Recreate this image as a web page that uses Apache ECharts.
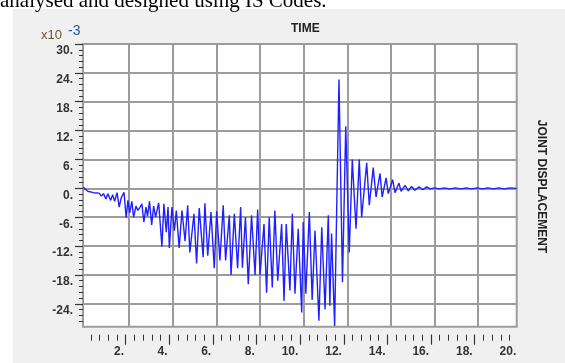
<!DOCTYPE html>
<html>
<head>
<meta charset="utf-8">
<title>Joint displacement - time</title>
<script src="https://cdn.jsdelivr.net/npm/echarts@6/dist/echarts.min.js"></script>
<style>
  html, body { margin: 0; padding: 0; background: #fff; }
  #chart { width: 565px; height: 363px; }
</style>
</head>
<body>
<div id="chart"></div>
<script>
// time, s
var timeValues = [
  -0.1, 0.1, 0.37, 0.62, 0.72, 0.82, 0.93, 1.02, 1.15, 1.24,
  1.33, 1.44, 1.54, 1.63, 1.76, 1.86, 1.94, 2.02, 2.12, 2.2,
  2.31, 2.4, 2.5, 2.58, 2.67, 2.77, 2.84, 2.93, 3.03, 3.12,
  3.21, 3.35, 3.5, 3.59, 3.7, 3.78, 3.84, 3.96, 4.07, 4.16,
  4.29, 4.42, 4.56, 4.68, 4.78, 4.97, 5.09, 5.21, 5.39, 5.47,
  5.6, 5.75, 5.9, 6.01, 6.16, 6.31, 6.42, 6.59, 6.67, 6.82,
  6.97, 7.11, 7.19, 7.33, 7.46, 7.61, 7.77, 7.89, 8.0, 8.18,
  8.3, 8.42, 8.56, 8.68, 8.81, 8.99, 9.1, 9.2, 9.37, 9.48,
  9.6, 9.75, 9.91, 9.98, 10.1, 10.26, 10.39, 10.52, 10.7, 10.83,
  10.98, 11.13, 11.2, 11.28, 11.42, 11.62, 11.78, 11.93, 12.09, 12.23,
  12.4, 12.55, 12.66, 12.89, 13.01, 13.19, 13.32, 13.5, 13.6, 13.78,
  13.88, 14.08, 14.19, 14.37, 14.47, 14.65, 14.8, 14.95, 15.1, 15.29,
  15.46, 15.64, 15.79, 16.0, 16.2, 16.45, 16.7, 16.95, 17.2, 17.45,
  17.7, 17.95, 18.2, 18.45, 18.7, 18.95, 19.2, 19.45, 19.77
];
// joint displacement, x10^-3
var dispValues = [
  0.2, -0.6, -0.9, -1.0, -1.6, -1.1, -2.2, -1.1, -2.5, -1.3,
  -2.7, -0.9, -3.9, -2.0, -0.8, -6.1, -2.5, -5.1, -2.7, -6.0,
  -3.7, -4.6, -3.9, -3.2, -7.0, -3.9, -5.8, -2.7, -7.6, -3.7,
  -6.0, -3.0, -12.1, -3.2, -9.1, -3.9, -12.4, -3.9, -8.8, -4.6,
  -12.4, -4.6, -11.0, -3.5, -13.3, -5.3, -15.6, -4.1, -14.3, -3.1,
  -14.0, -4.9, -16.6, -4.7, -15.0, -3.5, -15.0, -5.6, -18.0, -5.3,
  -16.6, -3.9, -16.5, -6.0, -19.9, -5.6, -18.0, -4.4, -18.0, -7.4,
  -21.7, -6.0, -20.6, -4.6, -19.2, -7.4, -23.4, -7.4, -21.2, -5.3,
  -21.9, -8.4, -25.8, -7.0, -21.9, -4.9, -23.2, -8.8, -27.5, -8.1,
  -25.1, -5.6, -24.4, -9.4, -28.6, 22.6, -19.5, 12.9, -13.3, 6.0,
  -8.4, 6.0, -6.0, 5.3, -3.5, 4.3, -1.8, 3.1, -1.8, 2.2,
  -1.1, 1.8, -0.9, 1.1, -0.6, 0.6, -0.5, 0.4, -0.4, 0.3,
  -0.3, 0.3, -0.1, 0.1, -0.1, 0.1, -0.1, 0.1, -0.1, 0.1,
  -0.1, 0.1, -0.1, 0.1, -0.1, 0.1, -0.1, 0.1, 0.0
];

var xLabelValues = [2, 4, 6, 8, 10, 12, 14, 16, 18, 20];
var xTickLabels = ['2.', '4.', '6.', '8.', '10.', '12.', '14.', '16.', '18.', '20.'];
var yLabelValues = [30, 24, 18, 12, 6, 0, -6, -12, -18, -24];
var yTickLabels = ['30.', '24.', '18.', '12.', '6.', '0.', '-6.', '-12.', '-18.', '-24.'];

var xMin = -0.12, xMax = 19.77;
var yMin = -28.75, yMax = 30;
var tickShift = 0.16;    // x tick row sits a little left of the grid lines
var labelShift = 0.24;   // x labels end just left of the tick
var yLabelShift = 1.46;  // y labels sit a little below their tick

var xMinorValues = [];
for (var i = 1; i < 50; i++) xMinorValues.push(Math.round(i * 4) / 10);
var yMinorValues = [];
for (var j = 0; j <= 48; j++) yMinorValues.push(Math.round((30 - j * 1.2) * 10) / 10);
var xMajorValues = xLabelValues.slice(0, 9);

var seriesData = timeValues.map(function (t, k) { return [t, dispValues[k]]; });

var FONT = '"Liberation Sans", Arial, sans-serif';
var gridColor = '#9c9c9c';
var tickColor = '#333';

function lookup(values, labels) {
  return function (v) {
    var k = values.indexOf(v);
    return k >= 0 ? labels[k] : '';
  };
}

var chart = echarts.init(document.getElementById('chart'));
chart.setOption({
  animation: false,
  backgroundColor: '#f0f0f0',
  title: {
    text: 'TIME',
    left: 291,
    top: 23,
    padding: 0,
    textStyle: { fontSize: 12, fontWeight: 'bold', color: '#222', fontFamily: FONT }
  },
  grid: {
    left: 83,
    top: 44,
    width: 433.7,
    height: 282.7,
    show: true,
    backgroundColor: '#fff',
    borderColor: gridColor,
    borderWidth: 2,
    containLabel: false,
    outerBoundsMode: 'none'
  },
  xAxis: [
    {
      // data axis, draws the vertical grid lines
      type: 'value', min: xMin, max: xMax,
      position: 'bottom',
      axisLine: { show: false, onZero: false },
      axisTick: { show: false, customValues: xMajorValues },
      axisLabel: { show: false },
      splitLine: { show: true, lineStyle: { color: gridColor, width: 2 } }
    },
    {
      // minor ticks below the plot
      type: 'value', min: xMin + tickShift, max: xMax + tickShift,
      position: 'bottom', offset: 8,
      axisLine: { show: false, onZero: false },
      axisTick: { show: true, customValues: xMinorValues, length: 6, lineStyle: { color: tickColor, width: 1 } },
      axisLabel: { show: false },
      splitLine: { show: false }
    },
    {
      // major ticks
      type: 'value', min: xMin + tickShift, max: xMax + tickShift,
      position: 'bottom', offset: 8,
      axisLine: { show: false, onZero: false },
      axisTick: { show: true, customValues: xMajorValues, length: 10, lineStyle: { color: tickColor, width: 1.2 } },
      axisLabel: { show: false },
      splitLine: { show: false }
    },
    {
      // tick labels
      type: 'value', min: xMin + labelShift, max: xMax + labelShift + 0.01,
      position: 'bottom', offset: 8,
      axisLine: { show: false, onZero: false },
      axisTick: { show: false },
      axisLabel: {
        customValues: xLabelValues,
        formatter: lookup(xLabelValues, xTickLabels),
        align: 'right',
        margin: 11,
        fontSize: 12,
        fontWeight: 'bold',
        color: tickColor,
        fontFamily: FONT
      },
      splitLine: { show: false }
    }
  ],
  yAxis: [
    {
      // data axis, major ticks + horizontal grid lines
      type: 'value', min: yMin, max: yMax,
      position: 'left',
      axisLine: { show: false, onZero: false },
      axisTick: { show: true, customValues: yLabelValues, length: 8, lineStyle: { color: tickColor, width: 1.2 } },
      axisLabel: { show: false },
      splitLine: { show: true, lineStyle: { color: gridColor, width: 2 } }
    },
    {
      // minor ticks
      type: 'value', min: yMin, max: yMax,
      position: 'left', offset: 0,
      axisLine: { show: false, onZero: false },
      axisTick: { show: true, customValues: yMinorValues, length: 4, lineStyle: { color: tickColor, width: 1 } },
      axisLabel: { show: false },
      splitLine: { show: false }
    },
    {
      // tick labels
      type: 'value', min: yMin + yLabelShift, max: yMax + yLabelShift,
      position: 'left', offset: 0,
      axisLine: { show: false, onZero: false },
      axisTick: { show: false },
      axisLabel: {
        customValues: yLabelValues,
        formatter: lookup(yLabelValues, yTickLabels),
        margin: 10,
        fontSize: 12,
        fontWeight: 'bold',
        color: tickColor,
        fontFamily: FONT
      },
      splitLine: { show: false }
    }
  ],
  graphic: [
    { type: 'rect', shape: { x: 0, y: 0, width: 565, height: 9 }, style: { fill: '#fff' }, silent: true },
    { type: 'rect', shape: { x: 0, y: 0, width: 13, height: 363 }, style: { fill: '#fff' }, silent: true },
    {
      type: 'text', x: 0, y: 1,
      style: { text: 'analysed and designed using IS Codes.', fontSize: 21, fontFamily: '"Liberation Serif", "Times New Roman", serif', fill: '#000', verticalAlign: 'middle' }
    },
    {
      type: 'text', x: 41, y: 35,
      style: { text: 'x10', fontSize: 13, fontFamily: FONT, fill: '#6b5530', verticalAlign: 'middle' }
    },
    {
      type: 'text', x: 68, y: 31,
      style: { text: '-3', fontSize: 14, fontFamily: FONT, fill: '#3050a8', verticalAlign: 'middle' }
    },
    {
      type: 'text', x: 541.7, y: 186.5, rotation: -Math.PI / 2,
      style: { text: 'JOINT DISPLACEMENT', fontSize: 12, fontWeight: 'bold', fontFamily: FONT, fill: '#222', align: 'center', verticalAlign: 'middle' }
    }
  ],
  series: [
    {
      type: 'line',
      xAxisIndex: 0,
      yAxisIndex: 0,
      data: seriesData,
      showSymbol: false,
      lineStyle: { color: '#1f1fff', width: 1.4 },
      z: 5
    }
  ]
});
</script>
</body>
</html>
